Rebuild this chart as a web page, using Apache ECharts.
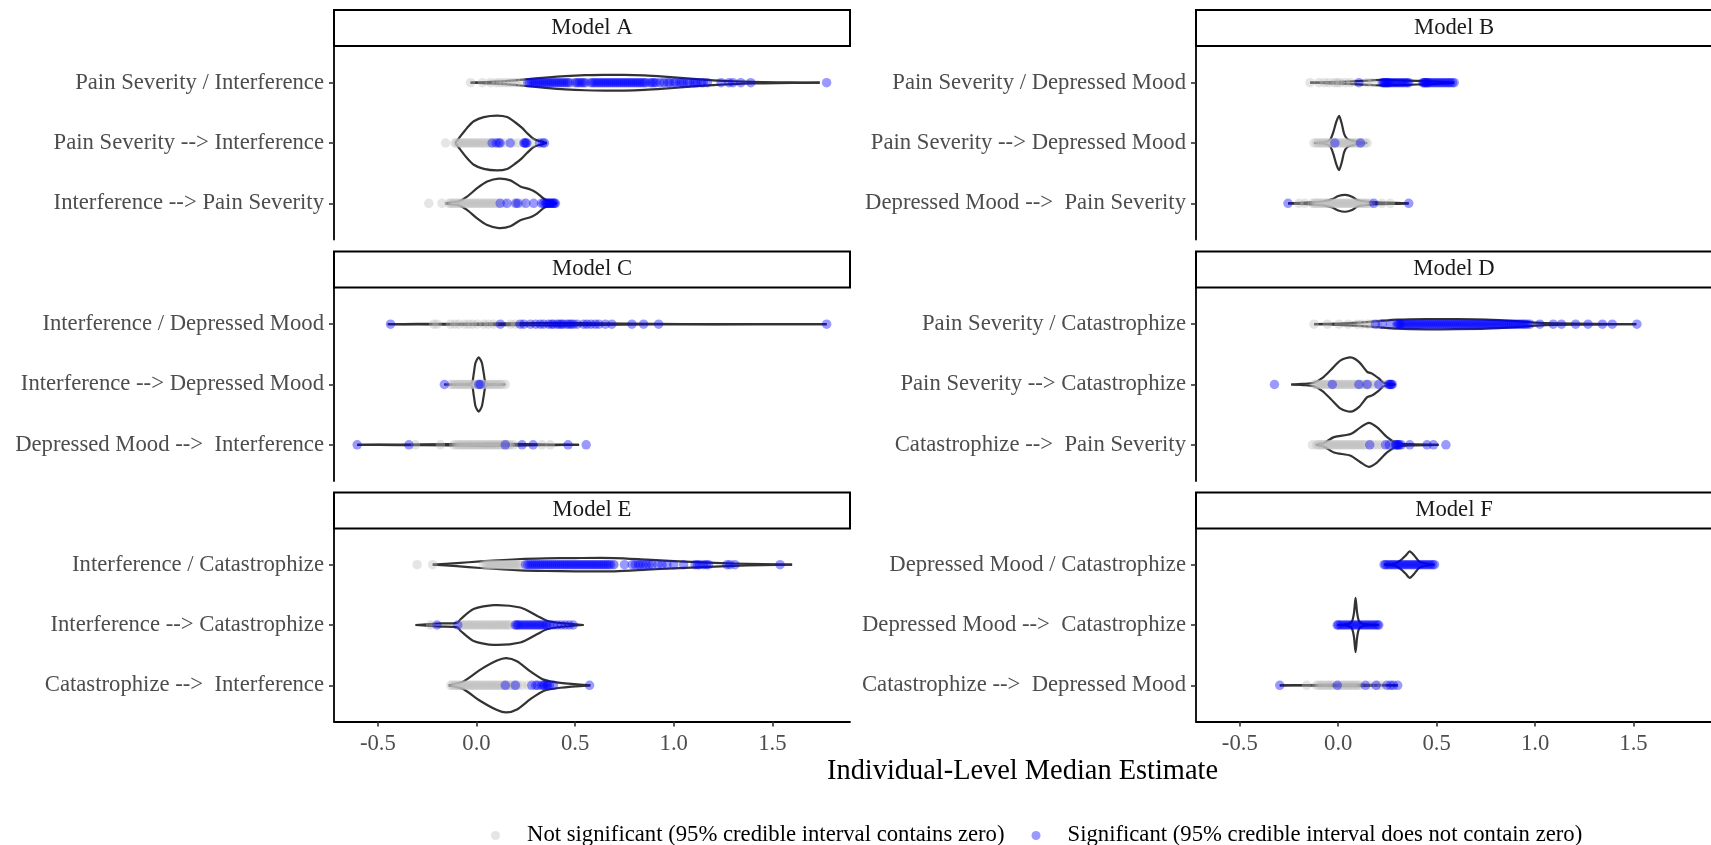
<!DOCTYPE html>
<html><head><meta charset="utf-8">
<script src="https://cdn.jsdelivr.net/npm/echarts@6/dist/echarts.min.js"></script>
<style>html,body{margin:0;padding:0;background:#fff}#c{width:1711px;height:845px}</style>
</head><body><div id="c"></div>
<script>
// ---------------- DATA ----------------
const panelNames = ['Model A', 'Model B', 'Model C', 'Model D', 'Model E', 'Model F'];
const legendNames = ['Not significant (95% credible interval contains zero)', 'Significant (95% credible interval does not contain zero)'];
const xTicks = [-0.5, 0, 0.5, 1, 1.5];
const xTitle = 'Individual-Level Median Estimate';

const labelsA = ['Pain Severity / Interference', 'Pain Severity --> Interference', 'Interference --> Pain Severity'];
const labelsB = ['Pain Severity / Depressed Mood', 'Pain Severity --> Depressed Mood', 'Depressed Mood -->  Pain Severity'];
const labelsC = ['Interference / Depressed Mood', 'Interference --> Depressed Mood', 'Depressed Mood -->  Interference'];
const labelsD = ['Pain Severity / Catastrophize', 'Pain Severity --> Catastrophize', 'Catastrophize -->  Pain Severity'];
const labelsE = ['Interference / Catastrophize', 'Interference --> Catastrophize', 'Catastrophize -->  Interference'];
const labelsF = ['Depressed Mood / Catastrophize', 'Depressed Mood -->  Catastrophize', 'Catastrophize -->  Depressed Mood'];

// points: estimates, grey = not significant, blue = significant
const grayA1 = [-0.03, 0.03, 0.07, 0.1, 0.12, 0.14, 0.16, 0.18, 0.2, 0.23, 0.48, 0.56, 0.95];
const blueA1 = [0.26, 0.27, 0.28, 0.29, 0.3, 0.31, 0.32, 0.33, 0.34, 0.35, 0.36, 0.37, 0.38, 0.39, 0.4, 0.41, 0.42, 0.43, 0.44, 0.45, 0.46, 0.47, 0.5, 0.51, 0.52, 0.53, 0.54, 0.55, 0.58, 0.59, 0.6, 0.61, 0.62, 0.63, 0.64, 0.65, 0.66, 0.67, 0.68, 0.69, 0.7, 0.71, 0.72, 0.73, 0.74, 0.75, 0.76, 0.77, 0.78, 0.79, 0.8, 0.81, 0.82, 0.83, 0.84, 0.85, 0.86, 0.88, 0.89, 0.9, 0.91, 0.93, 0.95, 0.97, 0.98, 1.0, 1.01, 1.03, 1.04, 1.05, 1.07, 1.08, 1.1, 1.11, 1.12, 1.14, 1.15, 1.17, 1.24, 1.28, 1.3, 1.34, 1.39, 1.775];
const grayA2 = [-0.157, -0.11, -0.1, -0.09, -0.08, -0.07, -0.06, -0.05, -0.04, -0.03, -0.02, -0.01, 0.0, 0.01, 0.02, 0.03, 0.04, 0.05, 0.06, 0.07, 0.09, 0.14, 0.18, 0.21, 0.28];
const blueA2 = [0.079, 0.1, 0.113, 0.12, 0.17, 0.24, 0.245, 0.25, 0.255, 0.32, 0.336, 0.345];
const grayA3 = [-0.242, -0.175, -0.14, -0.13, -0.12, -0.11, -0.1, -0.09, -0.08, -0.07, -0.06, -0.05, -0.04, -0.03, -0.02, -0.01, 0.0, 0.01, 0.02, 0.03, 0.04, 0.05, 0.06, 0.07, 0.08, 0.09, 0.1, 0.11, 0.14, 0.19, 0.23];
const blueA3 = [0.12, 0.155, 0.2, 0.21, 0.25, 0.29, 0.33, 0.34, 0.35, 0.355, 0.36, 0.365, 0.37, 0.375, 0.38, 0.385, 0.39, 0.395, 0.4];

const grayB1 = [-0.143, -0.098, -0.07, -0.047, -0.02, -0.005, 0.01, 0.037, 0.063, 0.147, 0.172];
const blueB1 = [0.105, 0.223, 0.23, 0.235, 0.24, 0.245, 0.25, 0.255, 0.26, 0.27, 0.28, 0.29, 0.3, 0.31, 0.32, 0.33, 0.34, 0.35, 0.358, 0.43, 0.435, 0.44, 0.445, 0.45, 0.455, 0.46, 0.47, 0.48, 0.49, 0.5, 0.51, 0.52, 0.53, 0.54, 0.55, 0.56, 0.569, 0.58, 0.589];
const grayB2 = [-0.123, -0.11, -0.1, -0.09, -0.08, -0.07, -0.06, -0.05, -0.04, -0.03, -0.02, -0.01, 0.0, 0.01, 0.02, 0.03, 0.04, 0.05, 0.06, 0.07, 0.08, 0.09, 0.1, 0.11, 0.12, 0.135, 0.147];
const blueB2 = [-0.017, 0.113];
const grayB3 = [-0.2, -0.17, -0.131, -0.12, -0.11, -0.1, -0.09, -0.08, -0.07, -0.06, -0.05, -0.04, -0.03, -0.02, -0.01, 0.0, 0.01, 0.02, 0.03, 0.04, 0.05, 0.06, 0.07, 0.08, 0.09, 0.1, 0.11, 0.12, 0.13, 0.14, 0.15, 0.164, 0.222, 0.264];
const blueB3 = [-0.255, 0.181, 0.358];

const grayC1 = [-0.217, -0.2, -0.132, -0.11, -0.09, -0.06, -0.04, -0.02, 0.003, 0.037, 0.06, 0.087, 0.172, 0.197];
const blueC1 = [-0.436, 0.121, 0.222, 0.24, 0.273, 0.3, 0.323, 0.34, 0.365, 0.38, 0.39, 0.408, 0.42, 0.43, 0.44, 0.458, 0.47, 0.48, 0.492, 0.51, 0.543, 0.56, 0.58, 0.602, 0.62, 0.653, 0.686, 0.788, 0.847, 0.923, 1.775];
const grayC2 = [-0.132, -0.12, -0.11, -0.1, -0.09, -0.08, -0.07, -0.06, -0.05, -0.04, -0.03, -0.02, -0.01, 0.0, 0.01, 0.02, 0.03, 0.04, 0.05, 0.06, 0.07, 0.08, 0.09, 0.1, 0.11, 0.12, 0.13, 0.146];
const blueC2 = [-0.163, 0.011, 0.02];
const grayC3 = [-0.31, -0.183, -0.115, -0.1, -0.09, -0.08, -0.07, -0.06, -0.05, -0.04, -0.03, -0.02, -0.01, 0.0, 0.01, 0.02, 0.03, 0.04, 0.05, 0.06, 0.07, 0.08, 0.09, 0.1, 0.11, 0.12, 0.13, 0.14, 0.15, 0.16, 0.17, 0.188, 0.332, 0.374];
const blueC3 = [-0.605, -0.343, 0.146, 0.231, 0.287, 0.464, 0.556];

const grayD1 = [-0.123, -0.055, 0.004, 0.05, 0.097, 0.12, 0.15, 0.172, 0.2];
const blueD1 = [0.189, 0.223, 0.265, 0.299, 0.305, 0.31, 0.315, 0.32, 0.33, 0.34, 0.35, 0.36, 0.37, 0.38, 0.39, 0.4, 0.41, 0.42, 0.43, 0.44, 0.45, 0.46, 0.47, 0.48, 0.49, 0.5, 0.51, 0.52, 0.53, 0.54, 0.55, 0.56, 0.57, 0.58, 0.59, 0.6, 0.61, 0.62, 0.63, 0.64, 0.65, 0.66, 0.67, 0.68, 0.69, 0.7, 0.71, 0.72, 0.73, 0.74, 0.75, 0.76, 0.77, 0.78, 0.79, 0.8, 0.81, 0.82, 0.83, 0.84, 0.85, 0.86, 0.87, 0.88, 0.89, 0.9, 0.91, 0.92, 0.93, 0.94, 0.95, 0.96, 0.974, 1.024, 1.092, 1.134, 1.206, 1.269, 1.342, 1.392, 1.517];
const grayD2 = [-0.12, -0.11, -0.1, -0.09, -0.08, -0.07, -0.06, -0.05, -0.04, -0.03, -0.02, -0.01, 0.0, 0.01, 0.02, 0.03, 0.04, 0.05, 0.06, 0.07, 0.08, 0.09, 0.1, 0.11, 0.12, 0.13, 0.14, 0.15, 0.16, 0.18, 0.2, 0.23];
const blueD2 = [-0.324, -0.03, 0.105, 0.147, 0.206, 0.255, 0.26, 0.265, 0.27, 0.275];
const grayD3 = [-0.131, -0.11, -0.1, -0.09, -0.08, -0.07, -0.06, -0.05, -0.04, -0.03, -0.02, -0.01, 0.0, 0.01, 0.02, 0.03, 0.04, 0.05, 0.06, 0.07, 0.08, 0.09, 0.1, 0.11, 0.12, 0.13, 0.14, 0.16, 0.18, 0.2, 0.22, 0.25, 0.28, 0.3];
const blueD3 = [0.16, 0.24, 0.26, 0.29, 0.295, 0.3, 0.305, 0.31, 0.32, 0.363, 0.451, 0.484, 0.547];

const grayE1 = [-0.301, -0.222, 0.037, 0.05, 0.06, 0.07, 0.08, 0.09, 0.1, 0.11, 0.12, 0.13, 0.14, 0.15, 0.16, 0.17, 0.18, 0.19, 0.2, 0.21, 0.222, 0.7];
const blueE1 = [0.248, 0.26, 0.27, 0.28, 0.29, 0.3, 0.31, 0.32, 0.33, 0.34, 0.35, 0.36, 0.37, 0.38, 0.39, 0.4, 0.41, 0.42, 0.43, 0.44, 0.45, 0.46, 0.47, 0.48, 0.49, 0.5, 0.51, 0.52, 0.53, 0.54, 0.55, 0.56, 0.57, 0.58, 0.59, 0.6, 0.61, 0.62, 0.63, 0.64, 0.65, 0.66, 0.67, 0.68, 0.695, 0.75, 0.79, 0.805, 0.82, 0.83, 0.845, 0.86, 0.875, 0.89, 0.92, 0.94, 0.965, 1.0, 1.05, 1.108, 1.12, 1.13, 1.15, 1.165, 1.176, 1.27, 1.285, 1.31, 1.539];
const grayE2 = [-0.233, -0.08, -0.07, -0.06, -0.05, -0.04, -0.03, -0.02, -0.01, 0.0, 0.01, 0.02, 0.03, 0.04, 0.05, 0.06, 0.07, 0.08, 0.09, 0.1, 0.11, 0.12, 0.13, 0.14, 0.15, 0.16, 0.17, 0.19];
const blueE2 = [-0.2, -0.095, 0.197, 0.205, 0.21, 0.22, 0.23, 0.24, 0.25, 0.26, 0.27, 0.28, 0.29, 0.3, 0.31, 0.32, 0.33, 0.34, 0.35, 0.357, 0.37, 0.39, 0.41, 0.43, 0.45, 0.47, 0.49];
const grayE3 = [-0.13, -0.12, -0.11, -0.1, -0.09, -0.08, -0.07, -0.06, -0.05, -0.04, -0.03, -0.02, -0.01, 0.0, 0.01, 0.02, 0.03, 0.04, 0.05, 0.06, 0.07, 0.08, 0.09, 0.1, 0.11, 0.12, 0.13, 0.14, 0.15, 0.16, 0.17, 0.18, 0.19, 0.2, 0.21, 0.23, 0.26];
const blueE3 = [0.146, 0.197, 0.28, 0.3, 0.31, 0.33, 0.34, 0.345, 0.355, 0.36, 0.37, 0.39, 0.573];

const grayF1 = [];
const blueF1 = [0.233, 0.24, 0.25, 0.26, 0.27, 0.28, 0.29, 0.3, 0.31, 0.32, 0.33, 0.34, 0.35, 0.36, 0.37, 0.38, 0.39, 0.4, 0.41, 0.42, 0.43, 0.44, 0.45, 0.46, 0.47, 0.48, 0.489];
const grayF2 = [];
const blueF2 = [-0.005, 0.0, 0.01, 0.02, 0.03, 0.04, 0.05, 0.06, 0.07, 0.08, 0.09, 0.1, 0.11, 0.12, 0.13, 0.14, 0.15, 0.16, 0.17, 0.18, 0.19, 0.2, 0.206];
const grayF3 = [-0.16, -0.11, -0.096, -0.085, -0.075, -0.06, -0.05, -0.04, -0.027, 0.0, 0.01, 0.02, 0.03, 0.04, 0.05, 0.06, 0.07, 0.08, 0.09, 0.1, 0.11, 0.16, 0.2, 0.22];
const blueF3 = [-0.297, -0.005, 0.138, 0.192, 0.247, 0.265, 0.28, 0.302];

// violin outlines: [estimate, half-width in row units]
const violinA1 = [[-0.03,0],[0.05,0.01],[0.15,0.025],[0.25,0.055],[0.35,0.085],[0.45,0.11],[0.55,0.125],[0.65,0.13],[0.75,0.13],[0.85,0.12],[0.95,0.1],[1.05,0.075],[1.15,0.05],[1.25,0.03],[1.35,0.018],[1.45,0.01],[1.6,0.005],[1.74,0]];
const violinA2 = [[-0.107,0],[-0.082,0.11],[-0.048,0.25],[-0.014,0.36],[0.037,0.43],[0.104,0.455],[0.155,0.43],[0.197,0.34],[0.231,0.25],[0.256,0.166],[0.29,0.066],[0.324,0.028],[0.357,0]];
const violinA3 = [[-0.157,0],[-0.12,0.02],[-0.09,0.03],[-0.048,0.11],[0.003,0.25],[0.054,0.36],[0.113,0.41],[0.172,0.38],[0.222,0.28],[0.273,0.23],[0.307,0.17],[0.34,0.08],[0.374,0.03],[0.408,0]];
const violinB1 = [[-0.143,0],[-0.05,0.01],[0.05,0.02],[0.15,0.035],[0.22,0.045],[0.3,0.04],[0.4,0.03],[0.5,0.02],[0.589,0]];
const violinB2 = [[-0.123,0],[-0.06,0.02],[-0.04,0.06],[-0.025,0.18],[-0.01,0.35],[0.004,0.45],[0.018,0.32],[0.03,0.15],[0.045,0.07],[0.07,0.04],[0.1,0.02],[0.147,0]];
const violinB3 = [[-0.255,0],[-0.15,0.015],[-0.08,0.03],[-0.03,0.07],[0.0,0.12],[0.037,0.14],[0.07,0.11],[0.1,0.05],[0.15,0.025],[0.2,0.015],[0.3,0.008],[0.358,0]];
const violinC1 = [[-0.45,0],[-0.3,0.004],[0,0.01],[0.3,0.018],[0.45,0.02],[0.6,0.012],[0.9,0.005],[1.2,0.002],[1.775,0]];
const violinC2 = [[-0.163,0],[-0.08,0.004],[-0.025,0.02],[-0.014,0.18],[-0.005,0.36],[0.011,0.45],[0.027,0.36],[0.037,0.18],[0.048,0.02],[0.09,0.004],[0.146,0]];
const violinC3 = [[-0.605,0],[-0.4,0.004],[-0.15,0.01],[0,0.018],[0.1,0.02],[0.25,0.01],[0.4,0.004],[0.52,0]];
const violinD1 = [[-0.123,0],[0,0.01],[0.1,0.025],[0.2,0.05],[0.3,0.075],[0.45,0.085],[0.6,0.083],[0.75,0.075],[0.9,0.05],[1.0,0.025],[1.1,0.012],[1.3,0.006],[1.514,0]];
const violinD2 = [[-0.239,0],[-0.18,0.01],[-0.123,0.03],[-0.08,0.11],[-0.038,0.24],[0.012,0.4],[0.063,0.45],[0.105,0.375],[0.147,0.21],[0.172,0.18],[0.206,0.1],[0.231,0.03],[0.26,0.01],[0.29,0]];
const violinD3 = [[-0.114,0],[-0.072,0.03],[-0.022,0.127],[0.063,0.18],[0.113,0.29],[0.155,0.365],[0.198,0.29],[0.248,0.127],[0.299,0.03],[0.37,0.01],[0.51,0]];
const violinE1 = [[-0.222,0],[-0.1,0.025],[0.02,0.055],[0.222,0.094],[0.35,0.105],[0.5,0.11],[0.7,0.11],[0.864,0.083],[1.0,0.06],[1.117,0.044],[1.3,0.02],[1.45,0.008],[1.6,0]];
const violinE2 = [[-0.309,0],[-0.2,0.025],[-0.098,0.035],[-0.08,0.1],[-0.015,0.265],[0.087,0.33],[0.222,0.29],[0.306,0.155],[0.357,0.07],[0.425,0.033],[0.543,0]];
const violinE3 = [[-0.141,0],[-0.1,0.03],[-0.065,0.066],[0.02,0.26],[0.104,0.41],[0.151,0.45],[0.205,0.4],[0.273,0.23],[0.34,0.094],[0.425,0.04],[0.577,0]];
const violinF1 = [[0.233,0],[0.29,0.02],[0.316,0.07],[0.344,0.155],[0.363,0.22],[0.385,0.155],[0.412,0.05],[0.45,0.015],[0.489,0]];
const violinF2 = [[-0.005,0],[0.05,0.015],[0.07,0.06],[0.08,0.2],[0.088,0.45],[0.096,0.2],[0.106,0.06],[0.13,0.015],[0.206,0]];
const violinF3 = [[-0.297,0],[-0.15,0.005],[0,0.012],[0.1,0.012],[0.2,0.006],[0.302,0]];

// ---------------- BUILD ----------------
const panels = [
  {labels: labelsA, gray: [grayA1, grayA2, grayA3], blue: [blueA1, blueA2, blueA3], violins: [violinA1, violinA2, violinA3]},
  {labels: labelsB, gray: [grayB1, grayB2, grayB3], blue: [blueB1, blueB2, blueB3], violins: [violinB1, violinB2, violinB3]},
  {labels: labelsC, gray: [grayC1, grayC2, grayC3], blue: [blueC1, blueC2, blueC3], violins: [violinC1, violinC2, violinC3]},
  {labels: labelsD, gray: [grayD1, grayD2, grayD3], blue: [blueD1, blueD2, blueD3], violins: [violinD1, violinD2, violinD3]},
  {labels: labelsE, gray: [grayE1, grayE2, grayE3], blue: [blueE1, blueE2, blueE3], violins: [violinE1, violinE2, violinE3]},
  {labels: labelsF, gray: [grayF1, grayF2, grayF3], blue: [blueF1, blueF2, blueF3], violins: [violinF1, violinF2, violinF3]}
];

const FONT = 'Liberation Serif';
const FS = 22.7;
const colLeft = [334, 1196];
const colWidth = [516, 516];
const rowTop = [46.5, 288, 528.5];
const plotH = 193;
const stripTop = [10, 251.5, 492.5];
const stripH = 36;
const X_MIN = -0.7225, X_MAX = 1.8935;

const grids = [], xAxes = [], yAxes = [], series = [], graphics = [];

panels.forEach((p, i) => {
  const col = i % 2, row = Math.floor(i / 2);
  grids.push({left: colLeft[col], top: rowTop[row], width: colWidth[col], height: plotH, containLabel: false});
  const bottom = row === 2;
  xAxes.push({
    gridIndex: i, type: 'value', min: X_MIN, max: X_MAX, show: bottom,
    axisLine: {show: true, onZero: false, lineStyle: {color: '#000', width: 1.8}},
    axisTick: {show: true, customValues: xTicks, length: 5, lineStyle: {color: '#333', width: 1.6}},
    axisLabel: {show: true, customValues: xTicks, formatter: v => Number(v).toFixed(1), margin: 5,
      padding: [6.5, 0, 0, 0], color: '#4D4D4D', fontFamily: FONT, fontSize: FS},
    splitLine: {show: false}
  });
  const labels = p.labels;
  yAxes.push({
    gridIndex: i, type: 'value', min: 0.4, max: 3.6,
    axisLine: {show: true, onZero: false, lineStyle: {color: '#000', width: 1.8}},
    axisTick: {show: true, customValues: [1, 2, 3], length: 5, lineStyle: {color: '#333', width: 1.6}},
    axisLabel: {show: true, customValues: [1, 2, 3], formatter: v => labels[3 - Math.round(v)], margin: 10,
      color: '#4D4D4D', fontFamily: FONT, fontSize: FS},
    splitLine: {show: false}
  });
  const violins = p.violins;
  series.push({
    type: 'custom', xAxisIndex: i, yAxisIndex: i, silent: true, z: 2,
    data: [[0], [1], [2]],
    renderItem: function (params, api) {
      const r = params.dataIndex;
      const prof = violins[r];
      const yc = 3 - r;
      const upper = prof.map(d => api.coord([d[0], yc + d[1]]));
      const lower = prof.map(d => api.coord([d[0], yc - d[1]]));
      const st = {fill: null, stroke: '#333333', lineWidth: 2.2};
      return {type: 'group', children: [
        {type: 'polyline', shape: {points: upper, smooth: 0.25}, style: st},
        {type: 'polyline', shape: {points: lower, smooth: 0.25}, style: st}
      ]};
    }
  });
  const grayData = [], blueData = [];
  p.gray.forEach((arr, r) => arr.forEach(v => grayData.push([v, 3 - r])));
  p.blue.forEach((arr, r) => arr.forEach(v => blueData.push([v, 3 - r])));
  series.push({type: 'scatter', name: legendNames[0], xAxisIndex: i, yAxisIndex: i, data: grayData,
    symbol: 'circle', symbolSize: 9.5, silent: true, z: 3, itemStyle: {color: 'rgba(190,190,190,0.5)', borderWidth: 0}});
  series.push({type: 'scatter', name: legendNames[1], xAxisIndex: i, yAxisIndex: i, data: blueData,
    symbol: 'circle', symbolSize: 9.5, silent: true, z: 4, itemStyle: {color: 'rgba(0,0,255,0.5)', borderWidth: 0}});

  // facet strip
  graphics.push({type: 'group', children: [
    {type: 'rect', shape: {x: colLeft[col], y: stripTop[row], width: colWidth[col], height: stripH},
      style: {fill: '#fff', stroke: '#000', lineWidth: 2}},
    {type: 'text', x: colLeft[col] + colWidth[col] / 2, y: stripTop[row] + stripH / 2,
      style: {text: panelNames[i], font: FS + 'px "' + FONT + '"', fill: '#1A1A1A', textAlign: 'center', textVerticalAlign: 'middle'}}
  ]});
});

graphics.push({type: 'text', x: 1022.5, y: 771.5,
  style: {text: xTitle, font: '28.4px "' + FONT + '"', fill: '#000', textAlign: 'center', textVerticalAlign: 'middle'}});

const chart = echarts.init(document.getElementById('c'), null, {renderer: 'canvas'});
chart.setOption({
  animation: false,
  backgroundColor: '#fff',
  grid: grids, xAxis: xAxes, yAxis: yAxes, series: series,
  graphic: graphics,
  legend: {
    data: legendNames, left: 486, top: 819, orient: 'horizontal', icon: 'circle',
    itemWidth: 9, itemHeight: 9, itemGap: 27, selectedMode: false,
    textStyle: {fontFamily: FONT, fontSize: FS, color: '#000', padding: [0, 0, 0, 22]}
  },
  tooltip: {show: false}
});
</script></body></html>
